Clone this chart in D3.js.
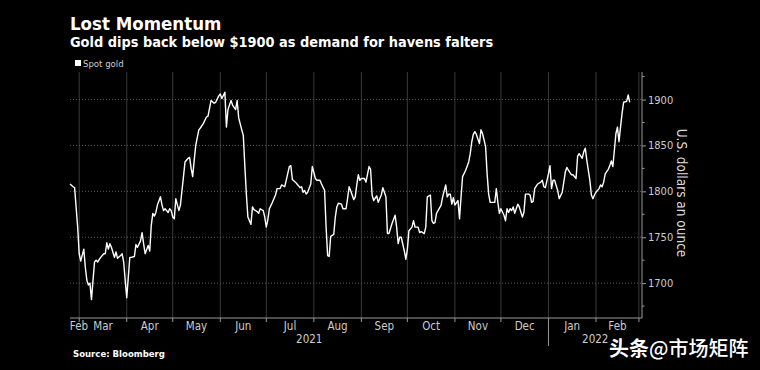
<!DOCTYPE html>
<html>
<head>
<meta charset="utf-8">
<script src="https://cdn.jsdelivr.net/npm/d3@7"></script>
<style>
  body { margin: 0; background: #000; }
  svg { display: block; background: #000; font-family: "DejaVu Sans Condensed", "DejaVu Sans", sans-serif; }
</style>
</head>
<body>
<svg id="chart" width="760" height="370"></svg>
<script>
// spot gold, USD per ounce
var dates = [
  "2021-02-23","2021-02-25","2021-02-26","2021-02-28","2021-03-01","2021-03-02","2021-03-04","2021-03-05","2021-03-06","2021-03-07",
  "2021-03-08","2021-03-09","2021-03-10","2021-03-11","2021-03-12","2021-03-13","2021-03-15","2021-03-17","2021-03-18","2021-03-19",
  "2021-03-20","2021-03-21","2021-03-22","2021-03-24","2021-03-25","2021-03-26","2021-03-28","2021-03-29","2021-03-30","2021-03-31",
  "2021-04-01","2021-04-02","2021-04-03","2021-04-04","2021-04-06","2021-04-07","2021-04-08","2021-04-10","2021-04-11","2021-04-12",
  "2021-04-13","2021-04-15","2021-04-16","2021-04-17","2021-04-18","2021-04-19","2021-04-20","2021-04-21","2021-04-23","2021-04-24",
  "2021-04-25","2021-04-26","2021-04-28","2021-04-29","2021-04-30","2021-05-01","2021-05-02","2021-05-03","2021-05-05","2021-05-06",
  "2021-05-08","2021-05-09","2021-05-11","2021-05-12","2021-05-13","2021-05-14","2021-05-15","2021-05-16","2021-05-18","2021-05-19",
  "2021-05-21","2021-05-23","2021-05-24","2021-05-26","2021-05-28","2021-05-29","2021-05-31","2021-06-01","2021-06-02","2021-06-04",
  "2021-06-05","2021-06-06","2021-06-08","2021-06-09","2021-06-11","2021-06-12","2021-06-13","2021-06-15","2021-06-16","2021-06-17",
  "2021-06-18","2021-06-19","2021-06-21","2021-06-22","2021-06-23","2021-06-25","2021-06-26","2021-06-27","2021-06-29","2021-06-30",
  "2021-07-01","2021-07-02","2021-07-03","2021-07-05","2021-07-07","2021-07-08","2021-07-10","2021-07-11","2021-07-13","2021-07-14",
  "2021-07-16","2021-07-17","2021-07-18","2021-07-20","2021-07-21","2021-07-23","2021-07-24","2021-07-25","2021-07-26","2021-07-27",
  "2021-07-28","2021-07-30","2021-07-31","2021-08-02","2021-08-03","2021-08-05","2021-08-06","2021-08-08","2021-08-09","2021-08-10",
  "2021-08-11","2021-08-12","2021-08-14","2021-08-15","2021-08-16","2021-08-17","2021-08-19","2021-08-20","2021-08-22","2021-08-23",
  "2021-08-24","2021-08-25","2021-08-27","2021-08-28","2021-08-29","2021-08-30","2021-08-31","2021-09-01","2021-09-03","2021-09-04",
  "2021-09-06","2021-09-07","2021-09-08","2021-09-09","2021-09-11","2021-09-12","2021-09-14","2021-09-15","2021-09-17","2021-09-18",
  "2021-09-19","2021-09-21","2021-09-23","2021-09-24","2021-09-25","2021-09-26","2021-09-27","2021-09-29","2021-09-30","2021-10-01",
  "2021-10-02","2021-10-04","2021-10-05","2021-10-06","2021-10-08","2021-10-09","2021-10-10","2021-10-12","2021-10-13","2021-10-14",
  "2021-10-16","2021-10-17","2021-10-18","2021-10-19","2021-10-20","2021-10-22","2021-10-23","2021-10-24","2021-10-26","2021-10-27",
  "2021-10-28","2021-10-29","2021-10-30","2021-10-31","2021-11-01","2021-11-03","2021-11-04","2021-11-05","2021-11-06","2021-11-08",
  "2021-11-10","2021-11-11","2021-11-12","2021-11-13","2021-11-14","2021-11-15","2021-11-17","2021-11-18","2021-11-19","2021-11-21",
  "2021-11-22","2021-11-23","2021-11-24","2021-11-26","2021-11-27","2021-11-28","2021-11-29","2021-11-30","2021-12-01","2021-12-03",
  "2021-12-04","2021-12-05","2021-12-06","2021-12-07","2021-12-08","2021-12-09","2021-12-10","2021-12-11","2021-12-12","2021-12-13",
  "2021-12-15","2021-12-16","2021-12-17","2021-12-19","2021-12-20","2021-12-21","2021-12-22","2021-12-23","2021-12-25","2021-12-27",
  "2021-12-28","2021-12-29","2021-12-30","2022-01-01","2022-01-02","2022-01-03","2022-01-04","2022-01-05","2022-01-07","2022-01-08",
  "2022-01-10","2022-01-11","2022-01-12","2022-01-13","2022-01-14","2022-01-16","2022-01-17","2022-01-19","2022-01-20","2022-01-21",
  "2022-01-23","2022-01-24","2022-01-25","2022-01-26","2022-01-28","2022-01-29","2022-01-30","2022-01-31","2022-02-01","2022-02-03",
  "2022-02-04","2022-02-05","2022-02-06","2022-02-07","2022-02-09","2022-02-10","2022-02-11","2022-02-12","2022-02-13","2022-02-14",
  "2022-02-15","2022-02-16","2022-02-17","2022-02-18","2022-02-19","2022-02-21","2022-02-22","2022-02-23"
];
var prices = [
  1808,1805,1804,1761,1732,1724,1737,1717,1703,1698,
  1700,1682,1703,1723,1725,1723,1728,1732,1732,1744,
  1737,1743,1739,1728,1734,1727,1730,1732,1723,1703,
  1684,1706,1728,1728,1729,1742,1739,1746,1755,1743,
  1732,1741,1735,1763,1776,1773,1777,1785,1794,1785,
  1779,1781,1777,1781,1779,1772,1770,1792,1779,1785,
  1816,1832,1836,1837,1825,1816,1834,1850,1867,1869,
  1874,1881,1882,1899,1896,1897,1904,1906,1901,1908,
  1870,1889,1899,1894,1889,1899,1880,1867,1861,1828,
  1797,1772,1764,1783,1780,1778,1776,1781,1779,1772,
  1761,1769,1781,1788,1796,1803,1803,1807,1805,1812,
  1827,1828,1813,1810,1808,1804,1805,1799,1801,1797,
  1799,1808,1827,1814,1812,1812,1808,1801,1761,1730,
  1729,1751,1753,1772,1783,1787,1786,1781,1781,1792,
  1805,1801,1791,1794,1807,1818,1812,1814,1814,1810,
  1827,1824,1796,1790,1795,1788,1796,1804,1794,1754,
  1754,1765,1774,1761,1743,1750,1750,1735,1726,1737,
  1757,1761,1768,1761,1761,1755,1756,1754,1761,1794,
  1796,1768,1765,1766,1776,1782,1785,1794,1807,1794,
  1797,1797,1786,1793,1785,1790,1770,1794,1816,1823,
  1832,1841,1854,1862,1865,1862,1852,1867,1863,1849,
  1819,1797,1788,1788,1788,1803,1788,1776,1781,1774,
  1768,1781,1777,1781,1779,1783,1776,1781,1786,1783,
  1772,1777,1797,1797,1796,1788,1789,1803,1808,1810,
  1812,1805,1804,1819,1828,1803,1812,1812,1801,1792,
  1799,1810,1821,1826,1823,1818,1818,1814,1838,1841,
  1836,1843,1847,1834,1812,1796,1792,1796,1799,1803,
  1807,1805,1810,1819,1824,1828,1833,1827,1845,1863,
  1870,1854,1870,1885,1897,1898,1905,1897
];
var yTicks = [1700, 1750, 1800, 1850, 1900];
var monthLabels = ["Feb","Mar","Apr","May","Jun","Jul","Aug","Sep","Oct","Nov","Dec","Jan","Feb"];
var yearLabels = ["2021", "2022"];

var svg = d3.select("#chart");
var plot = {left: 70, right: 642, top: 72, bottom: 318};

var parse = d3.timeParse("%Y-%m-%d");
var data = dates.map(function(d, i) { return { date: parse(d), value: prices[i] }; });

var start = new Date(2021, 1, 23), end = new Date(2022, 2, 3);
var x = d3.scaleTime().domain([start, end]).range([plot.left, plot.right]);
var y = d3.scaleLinear().domain([1662, 1930]).range([plot.bottom, plot.top]);

// titles
svg.append("text").attr("x", 70).attr("y", 30)
  .attr("fill", "#fff").attr("font-size", 18.5).attr("font-weight", "bold")
  .text("Lost Momentum");
svg.append("text").attr("x", 70).attr("y", 47)
  .attr("fill", "#fff").attr("font-size", 14.4).attr("font-weight", "bold")
  .text("Gold dips back below $1900 as demand for havens falters");

// legend
svg.append("rect").attr("x", 75).attr("y", 60).attr("width", 6).attr("height", 6).attr("fill", "#fff");
svg.append("text").attr("x", 83).attr("y", 67)
  .attr("fill", "#ccc").attr("font-size", 9.5).text("Spot gold");

// vertical month grid
var monthStarts = d3.timeMonth.range(d3.timeMonth.ceil(start), end);
svg.append("g").selectAll("line").data(monthStarts).enter().append("line")
  .attr("x1", d => x(d)).attr("x2", d => x(d))
  .attr("y1", plot.top).attr("y2", plot.bottom)
  .attr("stroke", "#3a3a3a").attr("stroke-width", 1);

// horizontal grid
svg.append("g").selectAll("line").data(yTicks).enter().append("line")
  .attr("x1", plot.left).attr("x2", plot.right)
  .attr("y1", d => y(d)).attr("y2", d => y(d))
  .attr("stroke", "#5a5a5a").attr("stroke-width", 1).attr("stroke-dasharray", "1,2");

// right axis
var yAxis = d3.axisRight(y).tickValues(yTicks).tickFormat(d3.format("d")).tickSize(4).tickPadding(2);
var ga = svg.append("g").attr("transform", "translate(" + plot.right + ",0)").call(yAxis);
ga.select(".domain").attr("stroke", "#999").attr("d", "M0," + plot.top + "V" + plot.bottom);
ga.selectAll(".tick line").attr("stroke", "#999");
ga.selectAll(".tick text").attr("fill", "#ccc").attr("font-size", 11)
  .attr("font-family", "DejaVu Sans Condensed, DejaVu Sans, sans-serif");
var minor = d3.range(1675, 1930, 50);
svg.append("g").selectAll("line").data(minor).enter().append("line")
  .attr("x1", plot.right).attr("x2", plot.right + 2.5)
  .attr("y1", d => y(d)).attr("y2", d => y(d))
  .attr("stroke", "#999");

svg.append("text")
  .attr("transform", "translate(677," + ((plot.top + plot.bottom) / 2 - 2) + ") rotate(90)")
  .attr("text-anchor", "middle").attr("fill", "#ddd").attr("font-size", 13.5)
  .text("U.S. dollars an ounce");

// x axis
svg.append("line").attr("x1", plot.left).attr("x2", plot.right)
  .attr("y1", plot.bottom).attr("y2", plot.bottom)
  .attr("stroke", "#999");
svg.append("g").selectAll("line").data(monthStarts).enter().append("line")
  .attr("x1", d => x(d)).attr("x2", d => x(d))
  .attr("y1", plot.bottom).attr("y2", d => d.getMonth() === 0 ? plot.bottom + 28 : plot.bottom + 4)
  .attr("stroke", "#999");

var bounds = [start].concat(monthStarts).concat([end]);
svg.append("g").selectAll("text").data(monthLabels).enter().append("text")
  .attr("x", function(d, i) {
    var mid = (x(bounds[i]) + x(bounds[i + 1])) / 2;
    return Math.max(mid, plot.left + 9);
  })
  .attr("y", 330).attr("text-anchor", "middle")
  .attr("fill", "#ccc").attr("font-size", 11.5)
  .text(d => d);

var yearBreak = new Date(2022, 0, 1);
var yearMid = [(x(start) + x(yearBreak)) / 2, (x(yearBreak) + x(end)) / 2];
svg.append("g").selectAll("text").data(yearLabels).enter().append("text")
  .attr("x", (d, i) => yearMid[i]).attr("y", 343).attr("text-anchor", "middle")
  .attr("fill", "#ccc").attr("font-size", 11.5)
  .text(d => d);

// the line
var line = d3.line().x(d => x(d.date)).y(d => y(d.value));
svg.append("path").datum(data).attr("d", line)
  .attr("fill", "none").attr("stroke", "#fff").attr("stroke-width", 1.4)
  .attr("stroke-linejoin", "round");

// source
svg.append("text").attr("x", 73).attr("y", 357)
  .attr("fill", "#fff").attr("font-size", 9.5).attr("font-weight", "bold")
  .text("Source: Bloomberg");

// watermark
var wm = svg.append("text").attr("x", 609).attr("y", 356)
  .attr("fill", "#fff").attr("font-size", 20)
  .attr("font-family", "Noto Sans CJK SC, sans-serif");
wm.append("tspan").attr("font-weight", "bold").text("头条");
wm.append("tspan").attr("font-weight", 500).text("@市场矩阵");
</script>
</body>
</html>
